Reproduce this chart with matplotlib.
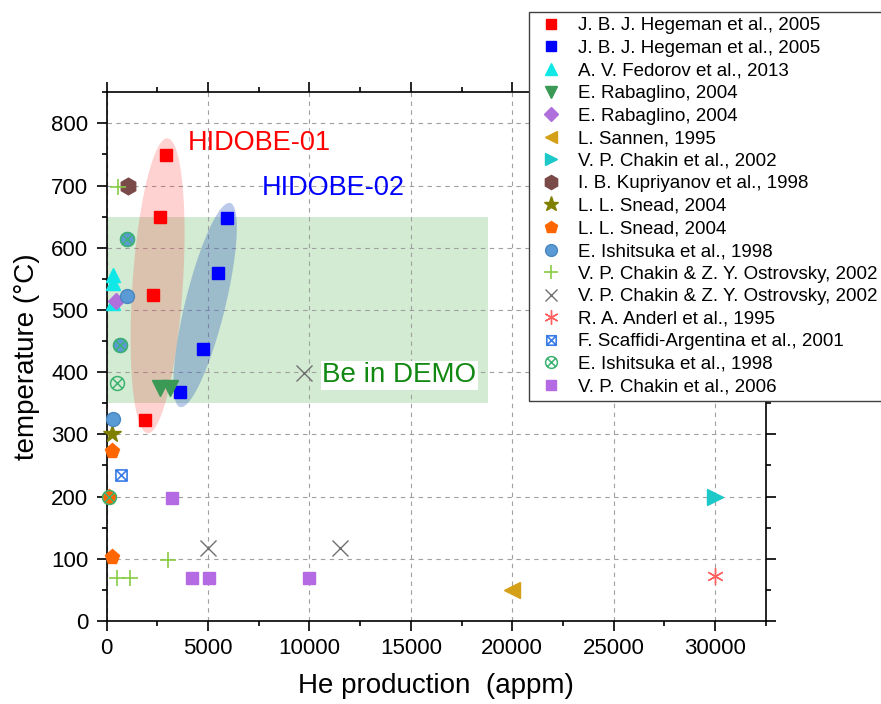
import matplotlib
matplotlib.use('Agg')
import matplotlib.pyplot as plt
from matplotlib.path import Path
from matplotlib.patches import Polygon, Rectangle
from matplotlib.ticker import MultipleLocator
import numpy as np

plt.rcParams['font.family'] = ['Liberation Sans', 'DejaVu Sans']

# data (He production in appm, temperature in C)
hegeman_red_x = [1890, 2290, 2630, 2930]
hegeman_red_y = [323, 524, 650, 749]
hegeman_blue_x = [3620, 4740, 5510, 5930]
hegeman_blue_y = [368, 438, 559, 648]
fedorov_x = [300, 300, 300]
fedorov_y = [556, 543, 511]
rabaglino_tri_x = [2630, 3130]
rabaglino_tri_y = [375, 375]
rabaglino_dia_x = [445]
rabaglino_dia_y = [515]
sannen_x = [20000]
sannen_y = [50]
chakin02_x = [30000]
chakin02_y = [200]
kupriyanov_x = [1050]
kupriyanov_y = [700]
snead_star_x = [250]
snead_star_y = [300]
snead_pent_x = [250, 110, 250]
snead_pent_y = [273, 200, 103]
ishitsuka_sph_x = [990, 990, 660, 330]
ishitsuka_sph_y = [614, 522, 444, 325]
ostrovsky_plus_x = [575, 3040, 495, 1150]
ostrovsky_plus_y = [698, 98, 69, 69]
ostrovsky_x_x = [9740, 5020, 11520]
ostrovsky_x_y = [399, 117, 117]
anderl_x = [30000]
anderl_y = [72]
scaffidi_x = [705]
scaffidi_y = [235]
ishitsuka_cx_x = [990, 660, 495, 120]
ishitsuka_cx_y = [614, 444, 382, 199]
chakin06_x = [3210, 4200, 5050, 9990]
chakin06_y = [198, 69, 69, 69]

# custom markers: circle with x, square with x
d = 0.7071
circle_x = Path.make_compound_path(
    Path.unit_circle(),
    Path([(-d, -d), (d, d), (-d, d), (d, -d)],
         [Path.MOVETO, Path.LINETO, Path.MOVETO, Path.LINETO]))
square_x = Path([(-1, -1), (1, -1), (1, 1), (-1, 1), (-1, -1),
                 (-1, -1), (1, 1), (-1, 1), (1, -1)],
                [Path.MOVETO, Path.LINETO, Path.LINETO, Path.LINETO, Path.CLOSEPOLY,
                 Path.MOVETO, Path.LINETO, Path.MOVETO, Path.LINETO])


def ellipse_pts(center, half_major, half_minor, n=200):
    t = np.linspace(0, 2 * np.pi, n)
    c = np.array(center, dtype=float)
    a = np.array(half_major, dtype=float)
    b = np.array(half_minor, dtype=float)
    return c + np.outer(np.cos(t), a) + np.outer(np.sin(t), b)


fig = plt.figure(figsize=(8.81, 7.04), dpi=100)
ax = fig.add_axes([0.1211, 0.1179, 0.7480, 0.7510])

# "Be in DEMO" window
ax.add_patch(Rectangle((0, 350), 18800, 300, facecolor='#4cb04c', alpha=0.25,
                       edgecolor='none', zorder=0.5))
# HIDOBE ellipses
ax.add_patch(Polygon(ellipse_pts((2510, 539), (490, 237), (1237, -3)), closed=True,
                     facecolor='#ff2020', alpha=0.2, edgecolor='none', zorder=1.5))
ax.add_patch(Polygon(ellipse_pts((4855, 508), (1235, 164), (958, -8)), closed=True,
                     facecolor='#2050c0', alpha=0.3, edgecolor='none', zorder=1.5))

kw = dict(linestyle='none', zorder=3, clip_on=False)
ax.plot(hegeman_red_x, hegeman_red_y, 's', color='#ff0000', ms=9, label='J. B. J. Hegeman et al., 2005', **kw)
ax.plot(hegeman_blue_x, hegeman_blue_y, 's', color='#0000ff', ms=9, label='J. B. J. Hegeman et al., 2005', **kw)
ax.plot(fedorov_x, fedorov_y, '^', color='#10e8e8', ms=10, label='A. V. Fedorov et al., 2013', **kw)
ax.plot(rabaglino_tri_x, rabaglino_tri_y, 'v', color='#3a9a55', ms=11, label='E. Rabaglino, 2004', **kw)
ax.plot(rabaglino_dia_x, rabaglino_dia_y, 'D', color='#b070dc', ms=8, label='E. Rabaglino, 2004', **kw)
ax.plot(sannen_x, sannen_y, '<', color='#d4a017', ms=11, label='L. Sannen, 1995', **kw)
ax.plot(chakin02_x, chakin02_y, '>', color='#1cc8c8', ms=11, label='V. P. Chakin et al., 2002', **kw)
ax.plot(kupriyanov_x, kupriyanov_y, 'h', color='#7a4a48', ms=12, label='I. B. Kupriyanov et al., 1998', **kw)
ax.plot(snead_star_x, snead_star_y, '*', color='#808000', ms=13, label='L. L. Snead, 2004', **kw)
ax.plot(snead_pent_x, snead_pent_y, 'p', color='#ff6600', ms=11, label='L. L. Snead, 2004', **kw)
ax.plot(ishitsuka_sph_x, ishitsuka_sph_y, 'o', color='#5b9bd5', mec='#4a86c0', ms=10, label='E. Ishitsuka et al., 1998', **kw)
ax.plot(ostrovsky_plus_x, ostrovsky_plus_y, '+', color='#88cc44', ms=12, mew=1.2, label='V. P. Chakin & Z. Y. Ostrovsky, 2002', **kw)
ax.plot(ostrovsky_x_x, ostrovsky_x_y, 'x', color='#707070', ms=11, mew=1.0, label='V. P. Chakin & Z. Y. Ostrovsky, 2002', **kw)
ax.plot(anderl_x, anderl_y, marker=(6, 2, 0), color='#ff6060', ms=12, mew=1.0, label='R. A. Anderl et al., 1995', **kw)
ax.plot(scaffidi_x, scaffidi_y, marker=square_x, color='#3a7ce8', mfc='none', ms=8, mew=1.2, label='F. Scaffidi-Argentina et al., 2001', **kw)
ax.plot(ishitsuka_cx_x, ishitsuka_cx_y, marker=circle_x, color='#3cb371', mfc='none', ms=10, mew=1.1, label='E. Ishitsuka et al., 1998', **kw)
ax.plot(chakin06_x, chakin06_y, 's', color='#b36ae2', ms=9, label='V. P. Chakin et al., 2006', **kw)

ax.text(4015, 768, 'HIDOBE-01', color='#ff0000', fontsize=19.5, va='center', ha='left', zorder=4)
ax.text(7670, 696, 'HIDOBE-02', color='#0000ff', fontsize=19.5, va='center', ha='left', zorder=4)
ax.text(10640, 395, 'Be in DEMO', color='#118811', fontsize=20, va='center', ha='left', zorder=4,
        bbox=dict(facecolor='white', edgecolor='none', pad=1))

ax.set_xlim(0, 32500)
ax.set_ylim(0, 850)
ax.xaxis.set_major_locator(MultipleLocator(5000))
ax.xaxis.set_minor_locator(MultipleLocator(2500))
ax.yaxis.set_major_locator(MultipleLocator(100))
ax.yaxis.set_minor_locator(MultipleLocator(50))
ax.tick_params(which='both', direction='out', top=True, right=True, width=1.2, labelsize=16)
ax.tick_params(which='major', length=7.2)
ax.tick_params(which='minor', length=3.6)
ax.tick_params(axis='x', which='major', pad=5)
ax.tick_params(axis='y', which='major', pad=6)
for s in ax.spines.values():
    s.set_linewidth(1.2)
ax.grid(True, which='major', linestyle=(0, (4, 4)), color='#a0a0a0', linewidth=0.8, zorder=1)
ax.set_axisbelow(True)

ax.set_xlabel('He production  (appm)', fontsize=20, labelpad=10)
ax.set_ylabel('temperature (°C)', fontsize=20, labelpad=8)

fig.legend(loc='upper left', bbox_to_anchor=(529.3 / 881, 1 - 11.7 / 704),
           fontsize=13.5, frameon=True, fancybox=False, framealpha=1, edgecolor='#404040',
           borderpad=0.3, handlelength=1.7, handletextpad=0.6, labelspacing=0.29,
           borderaxespad=0, numpoints=1, markerscale=0.85)

fig.savefig('out.png', dpi=100)
